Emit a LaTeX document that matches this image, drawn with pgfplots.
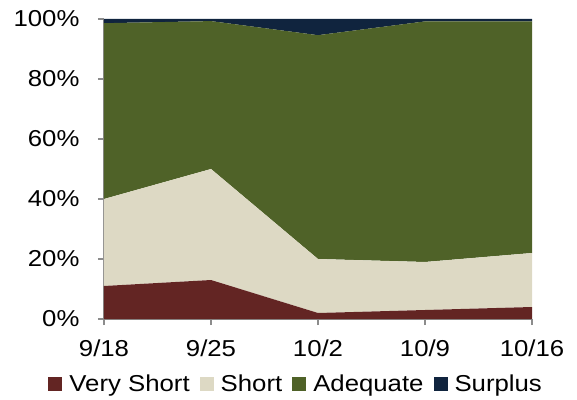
\documentclass[border=0pt]{standalone}
\usepackage{pgfplots}
\pgfplotsset{compat=1.18}
\usepackage{pgfplotstable}
\usepackage{fontspec}
\setmainfont{Liberation Sans}[FakeStretch=1.12]
\definecolor{vshort}{HTML}{632523}
\definecolor{short}{HTML}{DDD9C4}
\definecolor{adeq}{HTML}{4F6228}
\definecolor{surp}{HTML}{10243E}
\definecolor{axgray}{HTML}{8C8C8C}
\pgfplotstableread{
x vs sh ad su
0 11 29 58.6 1.4
1 13 37 49.3 0.7
2 2 18 74.6 5.4
3 3 16 80.2 0.8
4 4 18 77.2 0.8
}\data
\begin{document}
\begin{tikzpicture}
\begin{axis}[
  scale only axis, width=428bp, height=300bp,
  xmin=0, xmax=4, ymin=0, ymax=100,
  stack plots=y, clip=false,
  axis x line*=bottom, axis y line*=left,
  axis line style={axgray, line width=1.3bp},
  every tick/.style={axgray, line width=1.3bp},
  tick align=outside, major tick length=6bp,
  xtick={0,1,2,3,4},
  xticklabels={9/18,9/25,10/2,10/9,10/16},
  ytick={0,20,40,60,80,100},
  yticklabels={0\%,20\%,40\%,60\%,80\%,100\%},
  tick label style={font=\fontsize{23bp}{27bp}\selectfont, black},
  xticklabel style={yshift=-11bp},
  yticklabel style={xshift=-15bp},
  legend style={draw=none, fill=none, at={(rel axis cs:0.449,-0.217)}, anchor=center,
    font=\fontsize{23bp}{27bp}\selectfont, legend columns=4,
    /tikz/every odd column/.append style={column sep=5bp},
    /tikz/every even column/.append style={column sep=8bp}},
  legend image code/.code={\fill[#1] (0bp,-7bp) rectangle (14bp,7bp);},
  legend cell align=left,
]
\addplot[fill=vshort, draw=none] table[x=x, y=vs] {\data} \closedcycle;
\addlegendentry{Very Short}
\addplot[fill=short, draw=none] table[x=x, y=sh] {\data} \closedcycle;
\addlegendentry{Short}
\addplot[fill=adeq, draw=none] table[x=x, y=ad] {\data} \closedcycle;
\addlegendentry{Adequate}
\addplot[fill=surp, draw=none] table[x=x, y=su] {\data} \closedcycle;
\addlegendentry{Surplus}
\path (rel axis cs:0,0) ++(-104bp,-81bp) rectangle ++(577bp,400bp);
\end{axis}
\end{tikzpicture}
\end{document}
